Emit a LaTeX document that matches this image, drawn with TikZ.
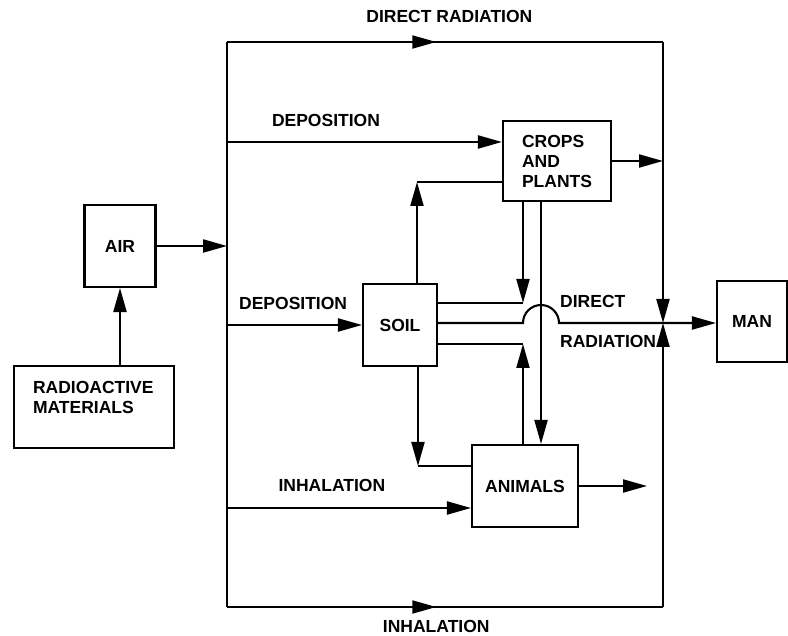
\documentclass[tikz,border=0pt]{standalone}
\usepackage{fontspec}
\setmainfont{Liberation Sans}
\usepackage{tikz}
\usetikzlibrary{arrows.meta,positioning,calc,decorations.markings}
\newcommand{\lblfont}{\fontsize{17.5}{20}\selectfont\bfseries}
\tikzset{
  box/.style={
    draw,
    line width=2.1pt,
    inner sep=0pt,
    font=\lblfont
  },
  wire/.style={line width=2.1pt},
  arr/.style={wire,-{Triangle[length=24pt,width=13pt]}},
  midarrow/.style={
    wire,
    postaction={decorate},
    decoration={markings,
      mark=at position 0.48 with {\arrow{Triangle[length=24pt,width=13pt]}}}
  },
  lbl/.style={font=\lblfont,inner sep=1pt}
}
\begin{document}
\begin{tikzpicture}[x=1pt,y=-1pt]
  \useasboundingbox (0,0) rectangle (788,636);
  \node[box,minimum width=71pt,minimum height=82pt] (air) at (120,246) {AIR};
  \node[box,minimum width=160pt,minimum height=82pt,text width=122pt,align=left] (rad) at (94,407) {
    RADIOACTIVE\\
    MATERIALS\\
    \mbox{}
  };
  \node[box,minimum width=108pt,minimum height=80pt,text width=70pt,align=left] (crops) at (557,161) {
    CROPS\\
    AND\\
    PLANTS
  };
  \node[box,minimum width=74pt,minimum height=82pt] (soil) at (400,325) {SOIL};
  \node[box,minimum width=106pt,minimum height=82pt] (animals) at (525,486) {ANIMALS};
  \node[box,minimum width=70pt,minimum height=81pt] (man) at (752,321.5) {MAN};
  \coordinate (tl) at (227,42);
  \coordinate (tr) at (663,42);
  \coordinate (bl) at (227,607);
  \coordinate (br) at (663,607);
  \coordinate (jn) at (663,323);
  \coordinate (c1) at (523,303);
  \coordinate (c3) at (523,344);
  \coordinate (c4) at (417,182);
  \coordinate (c5) at (418,466);
  \coordinate (hl) at (523,323);
  \coordinate (hc) at (541,323);
  \coordinate (hr) at (559,323);
  \coordinate (aout) at (647,486);
  \coordinate (dep) at ([yshift=19pt]crops.west);
  \coordinate (inh) at ([yshift=-22pt]animals.west);
  \draw[wire] (tl) -- (bl);
  \draw[midarrow] (tl) -- node[lbl,above=17pt,pos=0.51] (toplbl) {DIRECT RADIATION} (tr);
  \draw[midarrow] (bl) -- node[lbl,below=11pt,pos=0.48] (botlbl) {INHALATION} (br);
  \draw[arr] (tr) -- (jn);
  \draw[arr] (br) -- (jn);
  \draw[arr] (air.east) -- (air.east -| tl);
  \draw[arr] (rad.north -| air.south) -- (air.south);
  \draw[arr] (tl |- dep) -- node[lbl,above=13pt,pos=0.36] (deplbl) {DEPOSITION} (dep);
  \draw[arr] (tl |- soil.west) -- node[lbl,above=13pt,pos=0.49] (soillbl) {DEPOSITION} (soil.west);
  \draw[arr] (tl |- inh) -- node[lbl,above=14pt,pos=0.43] (inhlbl) {INHALATION} (inh);
  \draw[arr] (crops.east) -- (crops.east -| tr);
  \draw[arr] (animals.east) -- (aout);
  \draw[arr] (soil.north -| c4) -- (c4);
  \draw[wire] (c4) -- (crops.west |- c4);
  \draw[arr] (crops.south -| c1) -- (c1);
  \draw[wire] (c1) -- (soil.east |- c1);
  \draw[arr] (animals.north -| c3) -- (c3);
  \draw[wire] (c3) -- (soil.east |- c3);
  \draw[arr] (soil.south -| c5) -- (c5);
  \draw[wire] (c5) -- (animals.west |- c5);
  \draw[arr] (crops.south -| hc) -- (animals.north -| hc);
  \draw[arr] (soil.east |- hl) -- (hl) arc[start angle=180,end angle=0,radius=18pt] -- (man.west |- jn);
  \node[lbl,anchor=south west] (dirlbl) at ([yshift=14pt]hr) {DIRECT};
  \node[lbl,anchor=north west] (radlbl) at ([yshift=-11pt]hr) {RADIATION};
\end{tikzpicture}
\end{document}
